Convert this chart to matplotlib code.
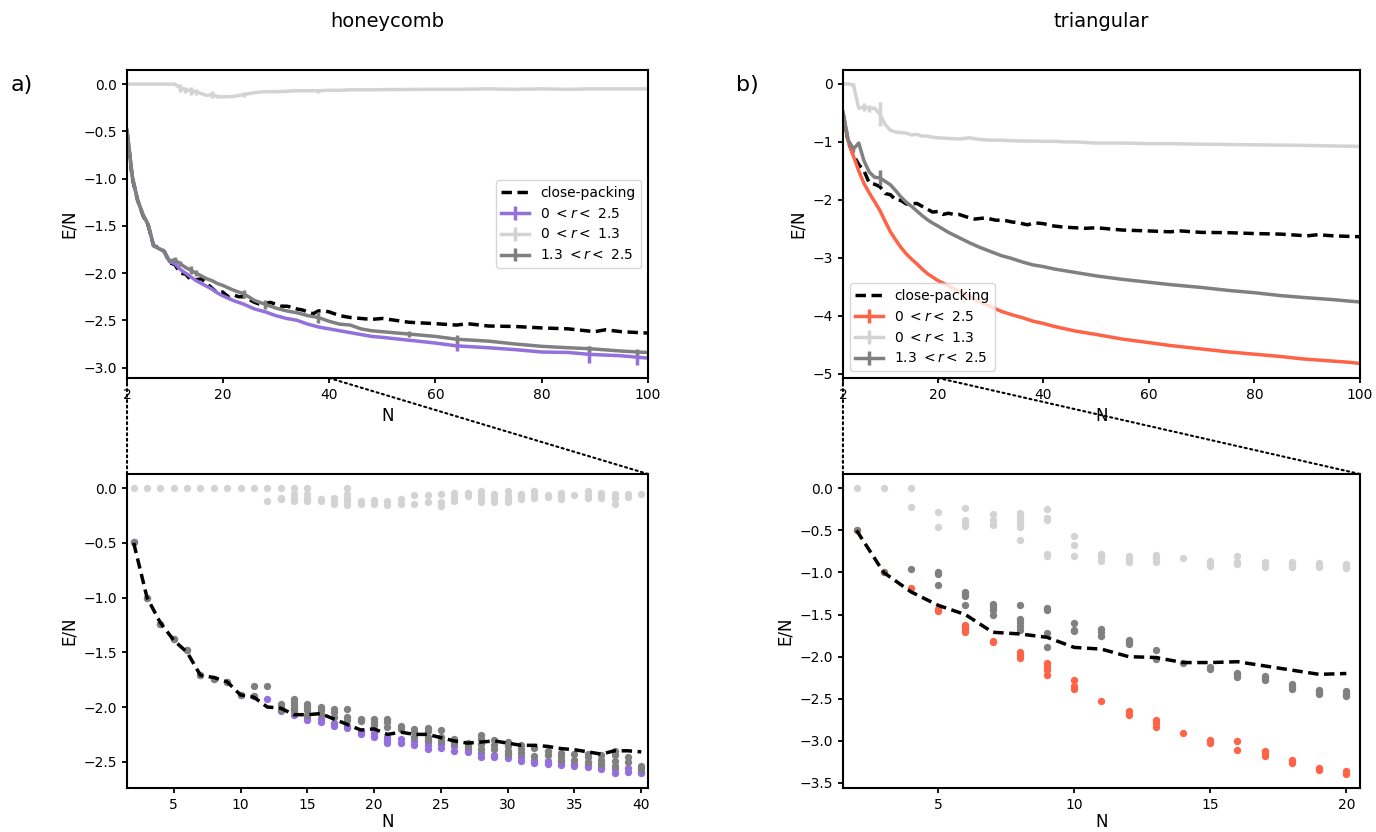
import numpy as np
import matplotlib.pyplot as plt
from matplotlib.patches import ConnectionPatch

# ---------------- data ----------------
# close-packing reference (same curve in both lattices)
cp_n = list(range(2, 41)) + [42, 44, 46, 48, 50, 55, 60, 64, 66, 70, 75, 80, 85, 90, 92, 95, 100]
cp_e = [-0.50, -1.00, -1.23, -1.39, -1.50, -1.71, -1.73, -1.77, -1.89, -1.91,
        -2.00, -2.01, -2.07, -2.07, -2.06, -2.11, -2.16, -2.21, -2.20, -2.25,
        -2.23, -2.25, -2.25, -2.28, -2.31, -2.33, -2.32, -2.31, -2.33, -2.35,
        -2.35, -2.36, -2.38, -2.39, -2.41, -2.43, -2.40, -2.40, -2.41,
        -2.45, -2.47, -2.48, -2.49, -2.48, -2.52, -2.535, -2.55, -2.535, -2.56,
        -2.565, -2.58, -2.59, -2.62, -2.60, -2.62, -2.635]

# top panels, mean E/N vs N
n_top = [2, 3, 4, 5, 6, 7, 8, 9, 10, 11, 12, 13, 14, 15, 16, 17, 18, 19, 20,
         22, 24, 26, 28, 30, 32, 34, 36, 38, 40, 42, 44, 46, 48, 50,
         55, 60, 64, 70, 75, 80, 85, 89, 95, 98, 100]

hc_all = [-0.49, -0.98, -1.23, -1.38, -1.49, -1.71, -1.74, -1.77, -1.88, -1.90,
          -1.96, -2.00, -2.04, -2.08, -2.11, -2.14, -2.17, -2.21, -2.24,
          -2.29, -2.33, -2.38, -2.41, -2.45, -2.48, -2.50, -2.54, -2.57, -2.59,
          -2.61, -2.63, -2.65, -2.67, -2.68,
          -2.71, -2.74, -2.77, -2.79, -2.81, -2.835, -2.84, -2.86, -2.875, -2.89, -2.90]
hc_near = [0.0, 0.0, 0.0, 0.0, 0.0, 0.0, 0.0, 0.0, 0.0, 0.0,
           -0.04, -0.06, -0.07, -0.08, -0.10, -0.12, -0.11, -0.13, -0.135,
           -0.13, -0.11, -0.09, -0.08, -0.08, -0.075, -0.07, -0.07, -0.07, -0.065,
           -0.065, -0.06, -0.06, -0.06, -0.058,
           -0.056, -0.055, -0.055, -0.05, -0.055, -0.05, -0.055, -0.05, -0.05, -0.05, -0.05]
hc_far = [-0.49, -0.98, -1.23, -1.38, -1.49, -1.71, -1.74, -1.77, -1.87, -1.86,
          -1.90, -1.94, -1.97, -2.00, -2.03, -2.06, -2.08, -2.11, -2.13,
          -2.18, -2.22, -2.29, -2.33, -2.37, -2.40, -2.42, -2.45, -2.47, -2.51,
          -2.54, -2.55, -2.59, -2.61, -2.62,
          -2.645, -2.67, -2.70, -2.72, -2.75, -2.775, -2.79, -2.80, -2.825, -2.835, -2.84]

tr_all = [-0.49, -0.99, -1.25, -1.50, -1.72, -1.88, -2.03, -2.18, -2.37, -2.55,
          -2.69, -2.82, -2.93, -3.02, -3.10, -3.19, -3.27, -3.33, -3.39,
          -3.48, -3.58, -3.67, -3.76, -3.84, -3.92, -3.98, -4.03, -4.09, -4.13,
          -4.18, -4.22, -4.26, -4.29, -4.32,
          -4.40, -4.46, -4.51, -4.57, -4.62, -4.66, -4.70, -4.74, -4.78, -4.80, -4.82]
tr_near = [0.0, 0.0, -0.02, -0.42, -0.40, -0.42, -0.42, -0.52, -0.70, -0.80,
           -0.83, -0.84, -0.85, -0.88, -0.87, -0.90, -0.90, -0.92, -0.93,
           -0.94, -0.95, -0.93, -0.96, -0.97, -0.97, -0.98, -0.985, -0.985, -0.99,
           -0.99, -1.00, -1.00, -1.01, -1.02,
           -1.02, -1.03, -1.03, -1.04, -1.045, -1.05, -1.055, -1.06, -1.07, -1.075, -1.08]
tr_far = [-0.49, -0.97, -1.12, -1.02, -1.33, -1.52, -1.61, -1.62, -1.68, -1.74,
          -1.84, -1.95, -2.04, -2.11, -2.19, -2.27, -2.34, -2.40, -2.45,
          -2.56, -2.65, -2.74, -2.82, -2.89, -2.96, -3.01, -3.07, -3.12, -3.15,
          -3.19, -3.22, -3.25, -3.28, -3.31,
          -3.37, -3.42, -3.46, -3.51, -3.56, -3.60, -3.65, -3.68, -3.72, -3.745, -3.76]

# error bars (N: half width)
hc_all_err = {64: 0.055, 89: 0.09, 98: 0.08}
hc_near_err = {12: 0.04, 13: 0.03, 14: 0.04, 15: 0.03, 18: 0.04, 19: 0.02, 24: 0.03, 38: 0.02}
hc_far_err = {11: 0.03, 12: 0.03, 14: 0.04, 15: 0.03, 24: 0.04, 28: 0.05, 38: 0.06,
              55: 0.03, 64: 0.04, 89: 0.03, 98: 0.03}
tr_all_err = {}
tr_near_err = {4: 0.04, 6: 0.07, 7: 0.06, 9: 0.21}
tr_far_err = {4: 0.05, 9: 0.13}

# bottom panels: every configuration, E/N per N (N = 2, 3, ...)
hc_all_pts = [[-0.49], [-1.0], [-1.24], [-1.38], [-1.48], [-1.71], [-1.74], [-1.77], [-1.89], [-1.9],
              [-1.93], [-2.04], [-2.02, -2.07], [-2.1, -2.12], [-2.11, -2.14], [-2.15, -2.17],
              [-2.17, -2.19], [-2.23, -2.25], [-2.24, -2.27], [-2.27, -2.3, -2.33], [-2.29, -2.33],
              [-2.31, -2.35], [-2.32, -2.35, -2.38], [-2.34, -2.37], [-2.36, -2.4], [-2.38, -2.41],
              [-2.42, -2.46], [-2.44, -2.46], [-2.44, -2.47], [-2.46, -2.49], [-2.48, -2.51],
              [-2.49, -2.52], [-2.5, -2.53], [-2.52, -2.54], [-2.53, -2.55], [-2.55, -2.57],
              [-2.57, -2.6], [-2.56, -2.59], [-2.59, -2.6]]
hc_near_pts = [[0.0], [0.0], [0.0], [0.0], [0.0], [0.0], [0.0], [0.0], [0.0], [0.0],
               [0.0, -0.12], [0.0, -0.09, -0.1], [0.0, -0.05, -0.09, -0.12], [0.0, -0.05, -0.09, -0.12],
               [-0.1, -0.12], [-0.09, -0.12, -0.14], [0.0, -0.05, -0.09, -0.12, -0.15], [-0.12, -0.14],
               [-0.11, -0.14], [-0.12, -0.15], [-0.1, -0.14], [-0.06, -0.14], [-0.06, -0.13],
               [-0.05, -0.13, -0.16], [-0.04, -0.08, -0.12], [-0.04, -0.07], [-0.03, -0.06, -0.1, -0.13],
               [-0.05, -0.09, -0.13], [-0.03, -0.07, -0.1, -0.13], [-0.05, -0.08, -0.1],
               [-0.03, -0.06, -0.09], [-0.06, -0.08], [-0.04, -0.07, -0.1], [-0.06],
               [-0.03, -0.06, -0.09], [-0.04, -0.06, -0.09], [-0.05, -0.09, -0.14], [-0.05, -0.08], [-0.05]]
hc_far_pts = [[-0.49], [-1.0], [-1.24], [-1.38], [-1.48], [-1.71], [-1.74], [-1.77], [-1.89],
              [-1.81, -1.9], [-1.81], [-1.97, -2.0, -2.03], [-1.93, -1.95, -1.98, -2.01, -2.04],
              [-1.97, -2.0, -2.03, -2.07], [-2.0, -2.03, -2.06], [-2.02, -2.05, -2.09],
              [-2.02, -2.09, -2.12], [-2.11, -2.13], [-2.11, -2.14, -2.16], [-2.11, -2.14, -2.18],
              [-2.17, -2.2], [-2.2, -2.23, -2.27], [-2.19, -2.22, -2.27, -2.3], [-2.21, -2.27, -2.31],
              [-2.29, -2.33], [-2.33, -2.36], [-2.26, -2.29, -2.34, -2.38], [-2.3, -2.35, -2.38],
              [-2.32, -2.36, -2.4, -2.43], [-2.35, -2.38, -2.42], [-2.37, -2.45], [-2.4, -2.44],
              [-2.42, -2.45, -2.48], [-2.43, -2.48], [-2.43, -2.46, -2.5], [-2.44, -2.48, -2.52],
              [-2.4, -2.44, -2.49, -2.54], [-2.46, -2.5], [-2.54, -2.57]]

tr_all_pts = [[-0.49], [-1.0], [-1.18], [-1.43, -1.46], [-1.62, -1.65, -1.68, -1.71], [-1.81, -1.83],
              [-1.95, -1.98, -2.02], [-2.07, -2.11, -2.16, -2.22], [-2.28, -2.35, -2.38], [-2.53],
              [-2.65, -2.69], [-2.75, -2.79, -2.83], [-2.91], [-2.99, -3.02], [-3.0, -3.11],
              [-3.12, -3.15, -3.18], [-3.23, -3.26], [-3.32, -3.35], [-3.36, -3.39]]
tr_near_pts = [[0.0], [0.0], [0.0, -0.22], [-0.28, -0.46], [-0.23, -0.38, -0.41, -0.45],
               [-0.3, -0.38, -0.42, -0.44], [-0.29, -0.33, -0.38, -0.42, -0.46, -0.61],
               [-0.25, -0.35, -0.38, -0.78, -0.8], [-0.57, -0.67, -0.8], [-0.78, -0.82, -0.86],
               [-0.8, -0.84, -0.88], [-0.79, -0.83, -0.87], [-0.83], [-0.86, -0.89, -0.92],
               [-0.8, -0.87, -0.9], [-0.87, -0.9, -0.93], [-0.87, -0.9, -0.93], [-0.89, -0.92, -0.94],
               [-0.9, -0.93, -0.95]]
tr_far_pts = [[-0.49], [-1.0], [-0.96], [-0.99, -1.02, -1.15], [-1.23, -1.25, -1.28, -1.39],
              [-1.38, -1.41, -1.44, -1.51], [-1.39, -1.55, -1.59, -1.64, -1.68],
              [-1.42, -1.44, -1.72, -1.89], [-1.6, -1.68, -1.7], [-1.67, -1.71, -1.75],
              [-1.8, -1.82, -1.85], [-1.92, -2.03], [-2.08], [-2.12, -2.15], [-2.19, -2.21, -2.24],
              [-2.23, -2.25, -2.28], [-2.32, -2.35, -2.39], [-2.4, -2.42, -2.44], [-2.41, -2.44, -2.47]]

labels = ['close-packing', r'0 $<r<$ 2.5', r'0 $<r<$ 1.3', r'1.3 $<r<$ 2.5']
c_near = 'lightgray'
c_far = 'gray'
cp_dash = (3, 1.6)

plt.rcParams['axes.linewidth'] = 1.5
plt.rcParams['xtick.major.width'] = 1.3
plt.rcParams['ytick.major.width'] = 1.3
plt.rcParams['font.size'] = 10


def flat(pts):
    xs, ys = [], []
    for i, vals in enumerate(pts):
        xs += [i + 2] * len(vals)
        ys += vals
    return xs, ys


def err_arr(errs):
    return [errs.get(n, 0.0) for n in n_top]


def top_panel(ax, all_e, near_e, far_e, errs, c_all, ylim, yticks, legend_loc):
    ax.plot(cp_n, cp_e, color='k', lw=2.5, dashes=cp_dash, label=labels[0])
    ax.errorbar(n_top, all_e, yerr=err_arr(errs[0]), color=c_all, lw=2.5, elinewidth=2.5, label=labels[1])
    ax.errorbar(n_top, near_e, yerr=err_arr(errs[1]), color=c_near, lw=2.5, elinewidth=2.5, label=labels[2])
    ax.errorbar(n_top, far_e, yerr=err_arr(errs[2]), color=c_far, lw=2.5, elinewidth=2.5, label=labels[3])
    ax.set_xlim(2, 100)
    ax.set_ylim(*ylim)
    ax.set_xticks([2, 20, 40, 60, 80, 100])
    ax.set_yticks(yticks)
    ax.set_xlabel('N', fontsize=12)
    ax.set_ylabel('E/N', fontsize=12)
    ax.legend(loc=legend_loc, fontsize=10)


def bottom_panel(ax, all_pts, near_pts, far_pts, c_all, nmax, xticks):
    for pts, c in [(all_pts, c_all), (near_pts, c_near), (far_pts, c_far)]:
        xs, ys = flat(pts)
        ax.scatter(xs, ys, s=28, color=c, linewidths=0, zorder=2)
    ax.plot(cp_n[:nmax - 1], cp_e[:nmax - 1], color='k', lw=2.5, dashes=cp_dash, zorder=3)
    ax.set_xlim(1.5, nmax + 0.5)
    ax.set_xticks(xticks)
    ax.set_xlabel('N', fontsize=12, labelpad=1)
    ax.set_ylabel('E/N', fontsize=12)


fig = plt.figure(figsize=(13.76, 8.32), dpi=100)
ax_a = fig.add_axes([0.0923, 0.5457, 0.3786, 0.3702])
ax_b = fig.add_axes([0.6126, 0.5457, 0.3757, 0.3702])
ax_c = fig.add_axes([0.0923, 0.0529, 0.3786, 0.3774])
ax_d = fig.add_axes([0.6126, 0.0529, 0.3757, 0.3774])

top_panel(ax_a, hc_all, hc_near, hc_far, (hc_all_err, hc_near_err, hc_far_err),
          'mediumpurple', (-3.11, 0.15), [0.0, -0.5, -1.0, -1.5, -2.0, -2.5, -3.0], 'center right')
top_panel(ax_b, tr_all, tr_near, tr_far, (tr_all_err, tr_near_err, tr_far_err),
          'tomato', (-5.07, 0.24), [0, -1, -2, -3, -4, -5], 'lower left')

bottom_panel(ax_c, hc_all_pts, hc_near_pts, hc_far_pts, 'mediumpurple', 40, [5, 10, 15, 20, 25, 30, 35, 40])
bottom_panel(ax_d, tr_all_pts, tr_near_pts, tr_far_pts, 'tomato', 20, [5, 10, 15, 20])
ax_c.set_ylim(-2.74, 0.13)
ax_d.set_ylim(-3.56, 0.17)

# zoom indicator lines
for top, bot, nmax in [(ax_a, ax_c, 40), (ax_b, ax_d, 20)]:
    y0 = top.get_ylim()[0]
    for xa, xb in [(2, 0), (nmax, 1)]:
        con = ConnectionPatch(xyA=(xa, y0), coordsA=top.transData, xyB=(xb, 1), coordsB=bot.transAxes,
                              color='k', lw=1.5, linestyle=':')
        fig.add_artist(con)

fig.text(0.2816, 0.9736, 'honeycomb', ha='center', va='center', fontsize=14)
fig.text(0.8005, 0.9736, 'triangular', ha='center', va='center', fontsize=14)
fig.text(0.008, 0.898, 'a)', ha='left', va='center', fontsize=16)
fig.text(0.535, 0.898, 'b)', ha='left', va='center', fontsize=16)

fig.savefig('out.png', dpi=100)
